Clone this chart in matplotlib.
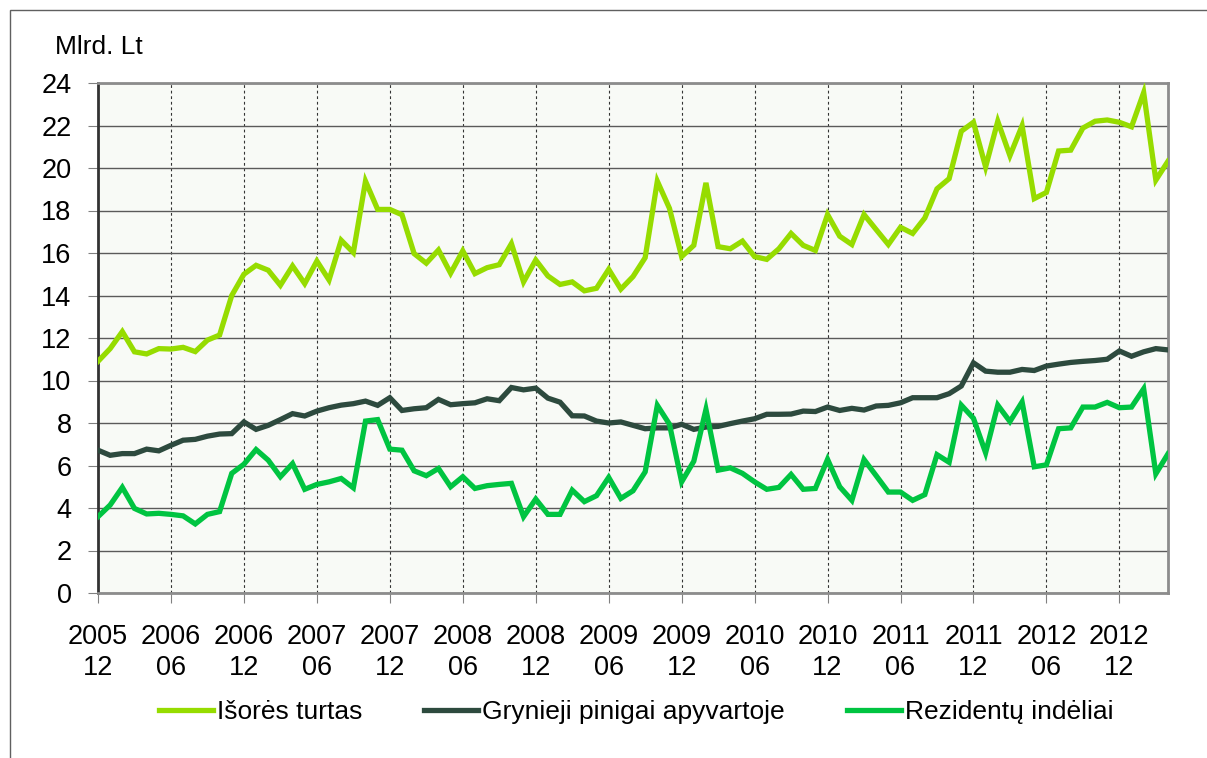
import matplotlib
matplotlib.use("Agg")
from matplotlib import pyplot as plt
import matplotlib.patches as mpatches
import pandas as pd
import numpy as np

plt.rcParams['font.family'] = ['Liberation Sans', 'DejaVu Sans']

# monthly values, 2005-12 .. 2013-04 (Mlrd. Lt)
months = pd.date_range('2005-12-01', periods=89, freq='MS')

isores_turtas = [
    10.9, 11.5, 12.3, 11.35, 11.25, 11.5, 11.48, 11.56, 11.36, 11.9,
    12.14, 14.0, 15.0, 15.42, 15.19, 14.48, 15.39, 14.56, 15.62, 14.73,
    16.6, 16.02, 19.38, 18.05, 18.05, 17.8, 15.97, 15.52, 16.14, 15.05,
    16.1, 15.03, 15.31, 15.45, 16.44, 14.64, 15.67, 14.92, 14.52, 14.64,
    14.22, 14.34, 15.23, 14.3, 14.89, 15.78, 19.38, 18.1, 15.83, 16.36,
    19.3, 16.3, 16.2, 16.56, 15.83, 15.7, 16.2, 16.92, 16.36, 16.12,
    17.81, 16.79, 16.4, 17.81, 17.1, 16.4, 17.21, 16.92, 17.65, 19.02,
    19.5, 21.73, 22.15, 20.05, 22.2, 20.58, 21.99, 18.56, 18.85, 20.8,
    20.84, 21.88, 22.2, 22.26, 22.15, 21.94, 23.55, 19.43, 20.32,
]

grynieji_pinigai = [
    6.72, 6.48, 6.56, 6.56, 6.77, 6.69, 6.95, 7.19, 7.23, 7.38,
    7.48, 7.5, 8.05, 7.7, 7.89, 8.16, 8.44, 8.33, 8.56, 8.72,
    8.84, 8.91, 9.03, 8.83, 9.19, 8.59, 8.67, 8.72, 9.11, 8.86,
    8.91, 8.95, 9.14, 9.05, 9.67, 9.56, 9.64, 9.17, 8.98, 8.34,
    8.33, 8.09, 8.0, 8.05, 7.89, 7.73, 7.77, 7.77, 7.94, 7.7,
    7.81, 7.84, 7.97, 8.09, 8.2, 8.41, 8.41, 8.42, 8.56, 8.54,
    8.75, 8.59, 8.69, 8.61, 8.8, 8.83, 8.95, 9.19, 9.19, 9.19,
    9.38, 9.74, 10.83, 10.44, 10.39, 10.39, 10.52, 10.47, 10.68, 10.77,
    10.85, 10.9, 10.94, 11.0, 11.39, 11.14, 11.35, 11.5, 11.44,
]

rezidentu_indeliai = [
    3.59, 4.14, 4.97, 3.98, 3.72, 3.75, 3.7, 3.63, 3.25, 3.7,
    3.83, 5.63, 6.06, 6.75, 6.25, 5.47, 6.09, 4.88, 5.11, 5.23,
    5.39, 4.95, 8.09, 8.16, 6.77, 6.72, 5.75, 5.52, 5.86, 5.0,
    5.47, 4.92, 5.05, 5.11, 5.16, 3.59, 4.42, 3.7, 3.7, 4.84,
    4.3, 4.58, 5.44, 4.45, 4.81, 5.7, 8.83, 7.94, 5.23, 6.2,
    8.64, 5.78, 5.89, 5.63, 5.23, 4.88, 4.97, 5.58, 4.88, 4.92,
    6.29, 5.0, 4.36, 6.28, 5.52, 4.75, 4.75, 4.36, 4.63, 6.51,
    6.15, 8.84, 8.22, 6.6, 8.84, 8.07, 8.99, 5.94, 6.03, 7.73,
    7.77, 8.75, 8.75, 8.97, 8.72, 8.75, 9.61, 5.61, 6.55,
]

series_names = ['Išorės turtas', 'Grynieji pinigai apyvartoje', 'Rezidentų indėliai']
series_colors = ['#96DC00', '#2D4A3E', '#00C441']

x = np.arange(len(months))
tick_pos = x[::6]
tick_labels = [f"{d.year}\n{d.month:02d}" for d in months[::6]]

fig = plt.figure(figsize=(12.07, 7.58), dpi=100)
# outer chart frame (partly cut off, like the source)
fig.patches.append(mpatches.Rectangle((10 / 1207, -0.05), 1.1, 1 - 10 / 758 + 0.05,
                                      transform=fig.transFigure, fill=False,
                                      edgecolor='#606060', lw=1.0))

ax = fig.add_axes([98 / 1207, 1 - 593 / 758, 1070 / 1207, 510 / 758])
ax.set_facecolor('#F8FAF6')

for vals, name, col in zip([isores_turtas, grynieji_pinigai, rezidentu_indeliai],
                           series_names, series_colors):
    ax.plot(x, vals, color=col, lw=3.8, label=name, solid_joinstyle='miter', zorder=3)

ax.set_xlim(0, len(months) - 1)
ax.set_ylim(0, 24)
ax.set_yticks(np.arange(0, 25, 2))
ax.set_xticks(tick_pos)
ax.set_xticklabels(tick_labels, fontsize=19.5, linespacing=1.25)
ax.tick_params(axis='y', labelsize=19.5, length=7, color='#808080', pad=12)
ax.tick_params(axis='x', length=7, color='#808080', pad=15)

ax.yaxis.grid(True, color='#5a5a5a', lw=1.0)
ax.xaxis.grid(True, color='#333333', lw=0.8, ls=(0, (2.5, 2.5)))
ax.set_axisbelow(True)

for side in ['top', 'right', 'bottom']:
    ax.spines[side].set_color('#8c8c8c')
    ax.spines[side].set_linewidth(2.0)
ax.spines['left'].set_color('#333333')
ax.spines['left'].set_linewidth(2.0)

fig.text(55 / 1207, 1 - 47 / 758, 'Mlrd. Lt', fontsize=19, va='center', ha='left')

fig.legend(loc='center', bbox_to_anchor=(0.527, 1 - 712 / 758), ncol=3,
           frameon=False, fontsize=19, handlelength=2.05, handletextpad=0.15,
           columnspacing=2.35)

fig.savefig('out.png', dpi=100)
